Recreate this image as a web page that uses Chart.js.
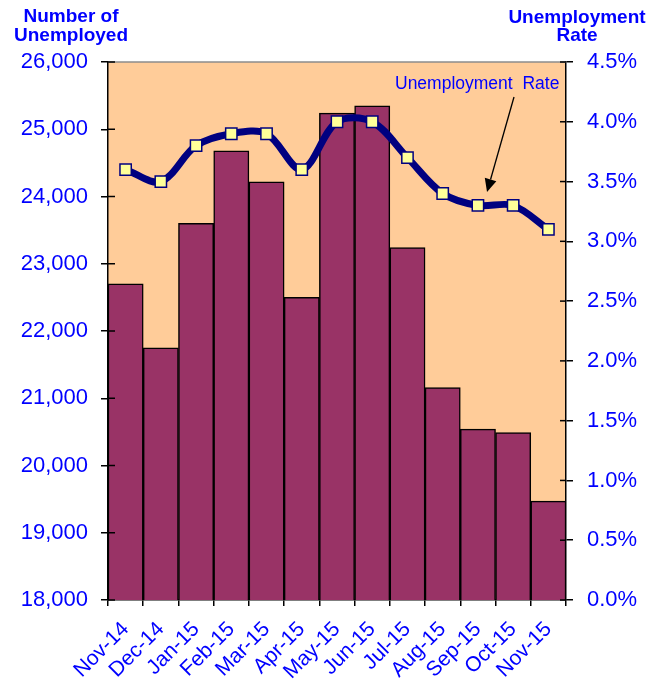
<!DOCTYPE html>
<html>
<head>
<meta charset="utf-8">
<script src="https://cdn.jsdelivr.net/npm/chart.js@4"></script>
<style>
  html, body { margin: 0; padding: 0; background: #fff; }
  #wrap { width: 658px; height: 683px; position: relative; }
</style>
</head>
<body>
<div id="wrap"><canvas id="chart"></canvas></div>
<script>
// data
const months = ['Nov-14', 'Dec-14', 'Jan-15', 'Feb-15', 'Mar-15', 'Apr-15', 'May-15',
  'Jun-15', 'Jul-15', 'Aug-15', 'Sep-15', 'Oct-15', 'Nov-15'];
const unemployed = [22700, 21750, 23600, 24680, 24220, 22500, 25240, 25350, 23240, 21160, 20540, 20490, 19470];
const rate = [3.6, 3.5, 3.8, 3.9, 3.9, 3.6, 4.0, 4.0, 3.7, 3.4, 3.3, 3.3, 3.1];
const leftTitle = ['Number of', 'Unemployed'];
const rightTitle = ['Unemployment', 'Rate'];
const noteText = 'Unemployment  Rate';

const FONT = '"Liberation Sans", Arial, sans-serif';
const BLUE = '#0000FF';

const decor = {
  id: 'decor',
  beforeDraw(chart) {
    const { ctx, chartArea: a } = chart;
    ctx.save();
    ctx.fillStyle = '#FFCC99';
    ctx.fillRect(a.left, a.top, a.right - a.left, a.bottom - a.top);
    ctx.restore();
  },
  afterDraw(chart) {
    const { ctx, chartArea: a } = chart;
    ctx.save();
    // top frame line
    ctx.strokeStyle = '#8c8c8c'; ctx.lineWidth = 1.5;
    ctx.beginPath(); ctx.moveTo(a.left, a.top); ctx.lineTo(a.right, a.top); ctx.stroke();

    // inner half of the cross ticks
    ctx.strokeStyle = '#000'; ctx.lineWidth = 1.5;
    const y = chart.scales.y, y1 = chart.scales.y1;
    y.ticks.forEach((t, i) => {
      const p = y.getPixelForTick(i);
      ctx.beginPath(); ctx.moveTo(a.left, p); ctx.lineTo(a.left + 7, p); ctx.stroke();
    });
    y1.ticks.forEach((t, i) => {
      const p = y1.getPixelForTick(i);
      ctx.beginPath(); ctx.moveTo(a.right - 6, p); ctx.lineTo(a.right, p); ctx.stroke();
    });

    // axis titles
    ctx.fillStyle = BLUE;
    ctx.font = 'bold 19px ' + FONT;
    ctx.textAlign = 'center'; ctx.textBaseline = 'alphabetic';
    ctx.fillText(leftTitle[0], 71, 22);
    ctx.fillText(leftTitle[1], 71, 41);
    ctx.fillText(rightTitle[0], 577, 23);
    ctx.fillText(rightTitle[1], 577, 41);

    // series note with arrow
    ctx.font = '17.5px ' + FONT;
    ctx.textAlign = 'left';
    ctx.fillText(noteText, 395, 89);
    const x0 = 514, yA = 97, x1 = 487, yB = 192;
    const ang = Math.atan2(yB - yA, x1 - x0);
    const hl = 13, hw = 6;
    const bx = x1 - hl * Math.cos(ang), by = yB - hl * Math.sin(ang);
    ctx.strokeStyle = '#000'; ctx.lineWidth = 1.3;
    ctx.beginPath(); ctx.moveTo(x0, yA); ctx.lineTo(bx, by); ctx.stroke();
    ctx.fillStyle = '#000';
    ctx.beginPath();
    ctx.moveTo(x1, yB);
    ctx.lineTo(bx + hw * Math.sin(ang), by - hw * Math.cos(ang));
    ctx.lineTo(bx - hw * Math.sin(ang), by + hw * Math.cos(ang));
    ctx.closePath(); ctx.fill();
    ctx.restore();
  }
};

new Chart(document.getElementById('chart').getContext('2d'), {
  data: {
    labels: months,
    datasets: [
      {
        type: 'line', label: 'Unemployment Rate', data: rate, yAxisID: 'y1', order: 0,
        borderColor: '#000080', borderWidth: 7, tension: 0.33,
        pointStyle: 'rect', pointRadius: 8, pointBackgroundColor: '#FFFF99',
        pointBorderColor: '#000080', pointBorderWidth: 1.5,
      },
      {
        type: 'bar', label: 'Number of Unemployed', data: unemployed, yAxisID: 'y', order: 1,
        backgroundColor: '#993366', borderColor: '#000', borderWidth: 1.5,
        barPercentage: 1, categoryPercentage: 1,
      },
    ],
  },
  options: {
    responsive: true, maintainAspectRatio: false, animation: false,
    layout: { padding: { top: 62, left: 0, right: 0, bottom: 0 } },
    plugins: { legend: { display: false }, tooltip: { enabled: false } },
    scales: {
      x: {
        offset: true,
        grid: { offset: true, drawOnChartArea: false, drawTicks: true, tickLength: 6, color: '#000', lineWidth: 1.5 },
        border: { display: true, color: '#000', width: 1.5 },
        ticks: { color: BLUE, font: { family: FONT, size: 21 }, maxRotation: 45, minRotation: 45, autoSkip: false, padding: 11 },
        afterFit: (s) => { s.height = 83; },
      },
      y: {
        position: 'left', min: 18000, max: 26000,
        grid: { drawOnChartArea: false, drawTicks: true, tickLength: 7, color: '#000', lineWidth: 1.5 },
        border: { display: true, color: '#000', width: 1.5 },
        ticks: { stepSize: 1000, color: BLUE, font: { family: FONT, size: 22 }, padding: 13,
          callback: (v) => v.toLocaleString('en-US') },
        afterFit: (s) => { s.width = 108; },
      },
      y1: {
        position: 'right', min: 0, max: 4.5,
        grid: { drawOnChartArea: false, drawTicks: true, tickLength: 7, color: '#000', lineWidth: 1.5 },
        border: { display: true, color: '#000', width: 1.5 },
        ticks: { stepSize: 0.5, color: BLUE, font: { family: FONT, size: 22 }, padding: 14,
          callback: (v) => v.toFixed(1) + '%' },
        afterFit: (s) => { s.width = 92; },
      },
    },
  },
  plugins: [decor],
});
</script>
</body>
</html>
